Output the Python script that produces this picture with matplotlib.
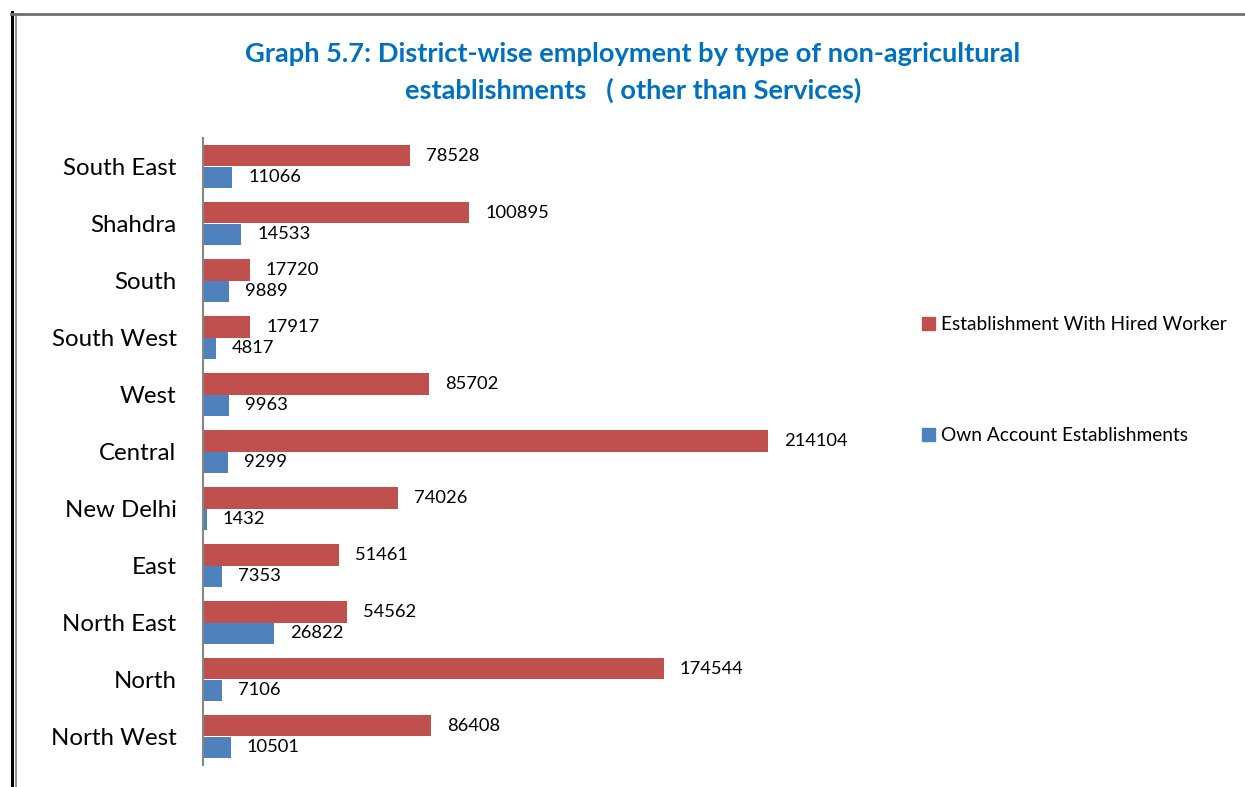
import matplotlib
matplotlib.use("Agg")
import matplotlib.pyplot as plt
from matplotlib.lines import Line2D

districts = ["South East", "Shahdra", "South", "South West", "West", "Central",
             "New Delhi", "East", "North East", "North", "North West"]
hired = [78528, 100895, 17720, 17917, 85702, 214104, 74026, 51461, 54562, 174544, 86408]
own = [11066, 14533, 9889, 4817, 9963, 9299, 1432, 7353, 26822, 7106, 10501]
series_names = ["Establishment With Hired Worker", "Own Account Establishments"]

plt.rcParams['font.family'] = ['Lato', 'DejaVu Sans']

W, H = 1245, 787
fig = plt.figure(figsize=(W / 100, H / 100), dpi=100)
ax = fig.add_axes([203 / W, 1 - 765 / H, (863 - 203) / W, (765 - 138) / H])

red = "#C0504D"
blue = "#4F81BD"
pos = list(range(len(districts)))
bh = 0.385
rb = ax.barh([p - bh / 2 for p in pos], hired, height=bh, color=red, label=series_names[0])
bb = ax.barh([p + bh / 2 for p in pos], own, height=bh, color=blue, label=series_names[1])
ax.bar_label(rb, labels=[str(v) for v in hired], padding=11.5, fontsize=13.2, color="black")
ax.bar_label(bb, labels=[str(v) for v in own], padding=11.5, fontsize=13.2, color="black")

ax.set_ylim(len(districts) - 0.5, -0.5)
ax.set_xlim(0, 250000)
ax.set_yticks(pos)
ax.set_yticklabels(districts, fontsize=17.3)
ax.tick_params(axis='y', length=0, pad=19)
ax.set_xticks([])
for s in ["top", "right", "bottom"]:
    ax.spines[s].set_visible(False)
ax.spines["left"].set_color("#868686")
ax.spines["left"].set_linewidth(1.5)

fig.text(633 / W, 1 - 54 / H, "Graph 5.7: District-wise employment by type of non-agricultural",
         ha="center", va="center", fontsize=19.6, fontweight="bold", color="#0070C0")
fig.text(633 / W, 1 - 90 / H, "establishments   ( other than Services)",
         ha="center", va="center", fontsize=19.6, fontweight="bold", color="#0070C0")

# legend entries
handles = [plt.Rectangle((0, 0), 1, 1, color=red), plt.Rectangle((0, 0), 1, 1, color=blue)]
leg = fig.legend(handles, series_names, loc="upper left", bbox_to_anchor=(905 / W, 1 - 299 / H),
                 frameon=False, fontsize=13.8, handlelength=0.65, handleheight=0.65,
                 handletextpad=0.35, labelspacing=4.9)

# outer frame lines
fig.add_artist(Line2D([12 / W, 12 / W], [0, 1 - 12 / H], color="black", lw=2.2))
fig.add_artist(Line2D([15.5 / W, 15.5 / W], [0, 1 - 14 / H], color="#7f7f7f", lw=1.2))
fig.add_artist(Line2D([11 / W, 1], [1 - 13.5 / H, 1 - 13.5 / H], color="#6f6f6f", lw=2.0))

fig.savefig("out.png", dpi=100)
